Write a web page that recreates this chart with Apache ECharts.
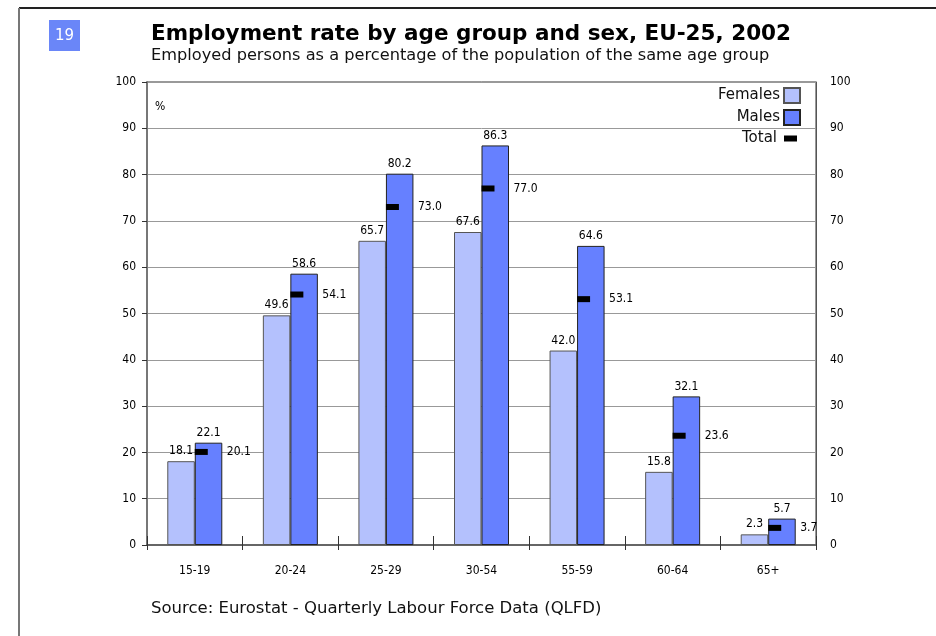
<!DOCTYPE html>
<html>
<head>
<meta charset="utf-8">
<script src="https://cdn.jsdelivr.net/npm/echarts@6/dist/echarts.min.js"></script>
<style>
html,body{margin:0;padding:0;background:#fff;}
#chart{width:936px;height:636px;}
</style>
</head>
<body>
<div id="chart"></div>
<script>
const categories = ['15-19', '20-24', '25-29', '30-54', '55-59', '60-64', '65+'];
const females = [18.1, 49.6, 65.7, 67.6, 42.0, 15.8, 2.3];
const males = [22.1, 58.6, 80.2, 86.3, 64.6, 32.1, 5.7];
const total = [20.1, 54.1, 73.0, 77.0, 53.1, 23.6, 3.7];
const yTicks = { min: 0, max: 100, interval: 10 };

const FONT = '"DejaVu Sans Condensed", "DejaVu Sans", sans-serif';
const SANS = '"DejaVu Sans", sans-serif';
const chart = echarts.init(document.getElementById('chart'), null, { renderer: 'canvas' });

const fmt = p => p.value.toFixed(1);
const lbl = { fontFamily: FONT, fontSize: 12, color: '#000', textBorderWidth: 0, opacity: 1 };

chart.setOption({
  animation: false,
  backgroundColor: '#fff',
  title: {
    text: 'Employment rate by age group and sex, EU-25, 2002',
    subtext: 'Employed persons as a percentage of the population of the same age group',
    left: 151, top: 22, itemGap: 0, padding: 0,
    textStyle: { fontFamily: SANS, fontWeight: 'bold', fontSize: 21.5, color: '#000', lineHeight: 25 },
    subtextStyle: { fontFamily: SANS, fontSize: 16.2, color: '#111', lineHeight: 18 }
  },
  graphic: [
    { type: 'line', shape: { x1: 19, y1: 8, x2: 936, y2: 8 }, style: { stroke: '#222', lineWidth: 2 } },
    { type: 'line', shape: { x1: 19, y1: 8, x2: 19, y2: 636 }, style: { stroke: '#777', lineWidth: 2 } },
    { type: 'rect', shape: { x: 49, y: 20, width: 31, height: 31 }, style: { fill: '#6a86f8' } },
    { type: 'text', x: 64.5, y: 36, style: { text: '19', fill: '#fff', font: '15px "DejaVu Sans", sans-serif', align: 'center', verticalAlign: 'middle' } },
    { type: 'text', left: 151, top: 600, style: { text: 'Source: Eurostat - Quarterly Labour Force Data (QLFD)', fill: '#111', font: '16.5px "DejaVu Sans", sans-serif' } }
  ],
  legend: [
    {
      data: ['Females', 'Males'], orient: 'vertical', right: 135, top: 87,
      itemWidth: 16, itemHeight: 15, itemGap: 5, align: 'right', padding: 0,
      icon: 'rect',
      textStyle: { fontFamily: SANS, fontSize: 15, color: '#111', padding: [0, -1, 0, 0] }
    },
    {
      data: ['Total'], orient: 'vertical', right: 139, top: 131,
      itemWidth: 13, itemHeight: 6, align: 'right', padding: 0, icon: 'rect',
      textStyle: { fontFamily: SANS, fontSize: 15, color: '#111', padding: [0, 2, 4, 0] }
    }
  ],
  grid: {
    left: 147, right: 120, top: 82, bottom: 91,
    show: true, borderColor: '#333', borderWidth: 1, backgroundColor: 'transparent'
  },
  xAxis: [
    {
      type: 'category', data: categories, position: 'bottom',
      axisLine: { lineStyle: { color: '#666', width: 2 } },
      axisTick: { show: true, length: 5, lineStyle: { color: '#333' } },
      axisLabel: { margin: 20, fontFamily: FONT, fontSize: 12, color: '#000' }
    },
    {
      type: 'category', data: categories, position: 'bottom',
      axisLine: { show: false },
      axisTick: { show: true, inside: true, length: 9, lineStyle: { color: '#333' } },
      axisLabel: { show: false }
    }
  ],
  yAxis: [
    {
      type: 'value', position: 'left', min: yTicks.min, max: yTicks.max, interval: yTicks.interval,
      name: '%', nameLocation: 'end', nameGap: -31,
      nameTextStyle: { fontFamily: FONT, fontSize: 12, color: '#000', align: 'left', padding: [0, 0, 0, 8] },
      axisLine: { show: true, lineStyle: { color: '#777', width: 2 } },
      axisTick: { show: true, length: 5, lineStyle: { color: '#333' } },
      axisLabel: { margin: 11, fontFamily: FONT, fontSize: 12, color: '#000' },
      splitLine: { lineStyle: { color: '#999', width: 1 } }
    },
    {
      type: 'value', position: 'right', min: yTicks.min, max: yTicks.max, interval: yTicks.interval,
      axisLine: { show: true, lineStyle: { color: '#555', width: 1 } },
      axisTick: { show: false },
      axisLabel: { margin: 14, fontFamily: FONT, fontSize: 12, color: '#000' },
      splitLine: { show: false }
    }
  ],
  series: [
    {
      name: 'Females', type: 'bar', data: females, barWidth: 27.5, barGap: '0%',
      itemStyle: { color: '#b4c1fd', borderColor: '#555', borderWidth: 1 },
      label: Object.assign({ show: true, position: 'top', distance: 4, formatter: fmt }, lbl)
    },
    {
      name: 'Males', type: 'bar', data: males, barWidth: 27.5, barGap: '0%',
      itemStyle: { color: '#6680ff', borderColor: '#222', borderWidth: 1 },
      label: Object.assign({ show: true, position: 'top', distance: 4, formatter: fmt }, lbl)
    },
    {
      name: 'Total', type: 'scatter', data: total, symbol: 'rect', symbolSize: [13, 6], symbolOffset: [6.5, 0], z: 5,
      itemStyle: { color: '#000', opacity: 1 },
      label: Object.assign({ show: true, position: 'right', distance: 19, formatter: fmt }, lbl)
    }
  ]
});
</script>
</body>
</html>
